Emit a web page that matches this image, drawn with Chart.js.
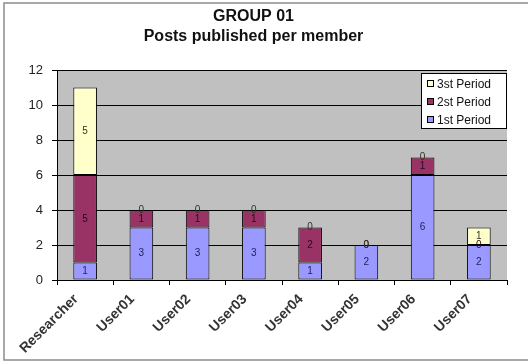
<!DOCTYPE html>
<html>
<head>
<meta charset="utf-8">
<script src="https://cdn.jsdelivr.net/npm/chart.js@4"></script>
<style>
  html, body { margin: 0; padding: 0; background: #fff; }
  #wrap { position: relative; width: 528px; height: 364px; }
</style>
</head>
<body>
<div id="wrap"><canvas id="chart" width="528" height="364"></canvas></div>
<script>
// posts per member, split by period
const members = ['Researcher', 'User01', 'User02', 'User03', 'User04', 'User05', 'User06', 'User07'];
const period1 = [1, 3, 3, 3, 1, 2, 6, 2];
const period2 = [5, 1, 1, 1, 2, 0, 1, 0];
const period3 = [5, 0, 0, 0, 0, 0, 0, 1];
const periodNames = ['1st Period', '2st Period', '3st Period'];
const yTicks = [0, 2, 4, 6, 8, 10, 12];

const FONT = "'Liberation Sans', Arial, sans-serif";
const fills = ['#9999ff', '#993366', '#ffffcc'];
const labelInk = ['#22225a', '#2a0a1a', '#333322'];

// white page, outer frame and grey plot background
const backdrop = {
    id: 'backdrop',
    beforeDraw(chart) {
        const { ctx, chartArea: a } = chart;
        ctx.save();
        ctx.fillStyle = '#fff';
        ctx.fillRect(0, 0, chart.width, chart.height);
        ctx.strokeStyle = '#8c8c8c';
        ctx.lineWidth = 1.5;
        ctx.strokeRect(4, 3, 560, 357);
        ctx.fillStyle = '#c0c0c0';
        ctx.fillRect(a.left, a.top, a.right - a.left, a.bottom - a.top);
        ctx.restore();
    }
};

// value written in the middle of every segment, zeros included
const segmentValues = {
    id: 'segmentValues',
    afterDatasetsDraw(chart) {
        const { ctx } = chart;
        ctx.save();
        ctx.font = '10px ' + FONT;
        ctx.textAlign = 'center';
        ctx.textBaseline = 'middle';
        chart.data.datasets.forEach((ds, i) => {
            const meta = chart.getDatasetMeta(i);
            ctx.fillStyle = labelInk[i];
            meta.data.forEach((bar, j) => {
                const y = (bar.y + bar.base) / 2;
                ctx.fillText(String(ds.data[j]), bar.x, y);
            });
        });
        ctx.restore();
    }
};

// boxed legend in the top right corner of the plot
const boxLegend = {
    id: 'boxLegend',
    afterDraw(chart) {
        const { ctx, chartArea: a } = chart;
        const w = 86, h = 56;
        const x = a.right - w, y = a.top + 3;
        ctx.save();
        ctx.fillStyle = '#fff';
        ctx.fillRect(x, y, w, h);
        ctx.strokeStyle = '#000';
        ctx.lineWidth = 1;
        ctx.strokeRect(x + 0.5, y + 0.5, w - 1, h - 1);
        ctx.font = '12px ' + FONT;
        ctx.textBaseline = 'middle';
        const order = [2, 1, 0];
        order.forEach((k, row) => {
            const cy = y + 11 + row * 18;
            ctx.fillStyle = fills[k];
            ctx.fillRect(x + 6, cy - 4, 7, 7);
            ctx.strokeStyle = '#000';
            ctx.strokeRect(x + 6.5, cy - 3.5, 6, 6);
            ctx.fillStyle = '#111';
            ctx.fillText(periodNames[k], x + 16, cy + 1);
        });
        ctx.restore();
    }
};

const datasets = [period1, period2, period3].map((values, i) => ({
    label: periodNames[i],
    data: values,
    backgroundColor: fills[i],
    borderColor: '#000',
    borderWidth: 1,
    borderSkipped: false,
    barPercentage: 0.42,
    categoryPercentage: 1
}));

new Chart(document.getElementById('chart'), {
    type: 'bar',
    data: { labels: members, datasets },
    options: {
        responsive: false,
        animation: false,
        layout: { padding: { left: 0, right: 21, top: 0, bottom: 0 } },
        plugins: {
            legend: { display: false },
            tooltip: { enabled: false },
            title: {
                display: true,
                text: ['GROUP 01', 'Posts published per member'],
                color: '#111',
                font: { family: FONT, size: 16, weight: 'bold', lineHeight: 1.25 },
                padding: { top: 7, bottom: 23 }
            }
        },
        scales: {
            x: {
                stacked: true,
                offset: true,
                afterFit(scale) { scale.height = 84; },
                grid: { offset: true, drawOnChartArea: false, drawTicks: true, tickLength: 5, color: '#000' },
                border: { display: true, color: '#000' },
                ticks: {
                    autoSkip: false,
                    minRotation: 45,
                    maxRotation: 45,
                    labelOffset: -9,
                    padding: 6,
                    color: '#333',
                    font: { family: FONT, size: 14, weight: 'bold' }
                }
            },
            y: {
                stacked: true,
                min: yTicks[0],
                max: yTicks[yTicks.length - 1],
                afterFit(scale) { scale.width = 57; },
                afterBuildTicks(scale) { scale.ticks = yTicks.map(v => ({ value: v })); },
                grid: { color: '#000', tickLength: 5 },
                border: { display: true, color: '#000' },
                ticks: {
                    padding: 9,
                    color: '#222',
                    font: { family: FONT, size: 13 }
                }
            }
        }
    },
    plugins: [backdrop, segmentValues, boxLegend]
});
</script>
</body>
</html>
